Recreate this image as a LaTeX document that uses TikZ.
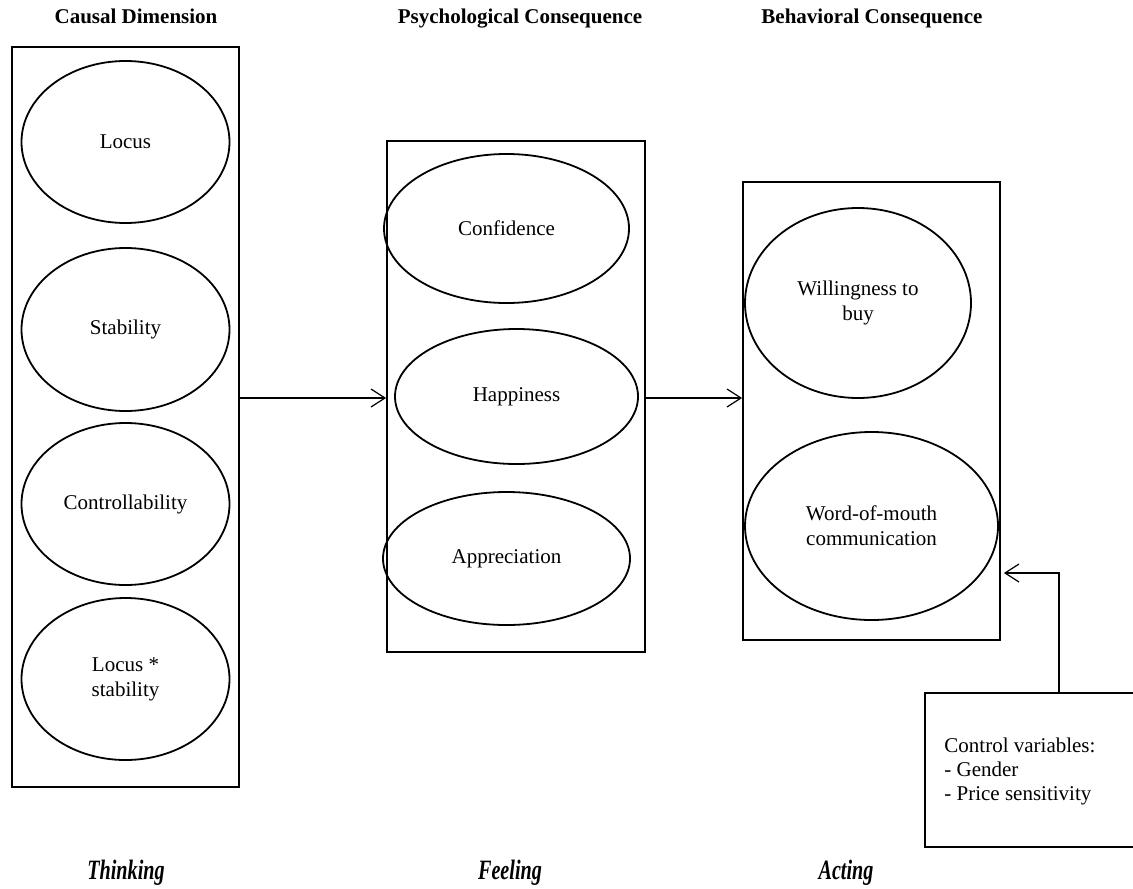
\documentclass[tikz,border=0pt]{standalone}
\usepackage{fontspec}
\usepackage{graphicx}
\setmainfont{Liberation Serif}
\usetikzlibrary{shapes.geometric,arrows.meta}
\begin{document}
\begin{tikzpicture}[x=0.5pt,y=-0.5pt,
  ell/.style={draw, ellipse, line width=0.9pt, inner sep=0pt, align=center, font=\fontsize{10.5}{12.5}\selectfont},
  frame/.style={draw, rectangle, line width=0.9pt, inner sep=0pt},
  head/.style={font=\fontsize{10.5}{12.5}\selectfont\bfseries, anchor=base},
  foot/.style={font=\fontsize{14}{16}\selectfont\bfseries\itshape, anchor=base},
  plain/.style={font=\fontsize{10.5}{12}\selectfont, align=left, anchor=west, inner sep=0pt},
  arr/.style={-{Straight Barb[length=7pt,width=9pt]}, line width=0.6pt}
]
\useasboundingbox (0,0) rectangle (1133,888);
\clip (0,0) rectangle (1133,888);

% headers
\node[head] (h1) at (136,24) {Causal Dimension};
\node[head] (h2) at (520,24) {Psychological Consequence};
\node[head] (h3) at (872,24) {Behavioral Consequence};

% left box
\node[frame, minimum width=113.5pt, minimum height=370pt] (lbox) at (125.5,417) {};
\node[ell, minimum width=104pt, minimum height=81pt] (locus) at (125.5,142) {Locus};
\node[ell, minimum width=104pt, minimum height=81.5pt] (stab) at (125.5,329.5) {Stability};
\node[ell, minimum width=104pt, minimum height=81pt] (contr) at (125.5,504) {Controllability};
\node[ell, minimum width=104pt, minimum height=81pt] (ls) at (125.5,679) {Locus *\\stability};

% middle box
\node[frame, minimum width=129pt, minimum height=255.5pt] (mbox) at (516,396.5) {};
\node[ell, minimum width=122.5pt, minimum height=74.5pt] (conf) at (506.5,228.5) {Confidence};
\node[ell, minimum width=121.5pt, minimum height=67.5pt] (happy) at (516.5,396.5) {Happiness};
\node[ell, minimum width=123.5pt, minimum height=66.5pt] (appr) at (506.5,558.5) {Appreciation};

% right box
\node[frame, minimum width=128.5pt, minimum height=229pt] (rbox) at (871.5,411) {};
\node[ell, minimum width=113pt, minimum height=95pt] (will) at (858,303) {Willingness to\\buy};
\node[ell, minimum width=126.5pt, minimum height=94pt] (wom) at (871.5,526) {Word-of-mouth\\communication};

% control box
\node[frame, minimum width=107.5pt, minimum height=77pt] (cbox) at (1032.5,770) {};
\node[plain] (ctext) at (944,771) {Control variables:\\- Gender\\- Price sensitivity};

% connectors
\coordinate (ay) at (0,398);
\coordinate (cy) at (1059,573);
\draw[arr] (lbox.east |- ay) -- (mbox.west |- ay);
\draw[arr] (mbox.east |- ay) -- (rbox.west |- ay);
\draw[arr, shorten >=1.5pt] (cbox.north -| cy) -- (cy) -- (rbox.east |- cy);

% footers
\node[foot] (f1) at (126,879) {\scalebox{0.72}[1]{Thinking}};
\node[foot] (f2) at (510,879) {\scalebox{0.72}[1]{Feeling}};
\node[foot] (f3) at (846,879) {\scalebox{0.72}[1]{Acting}};
\end{tikzpicture}
\end{document}
